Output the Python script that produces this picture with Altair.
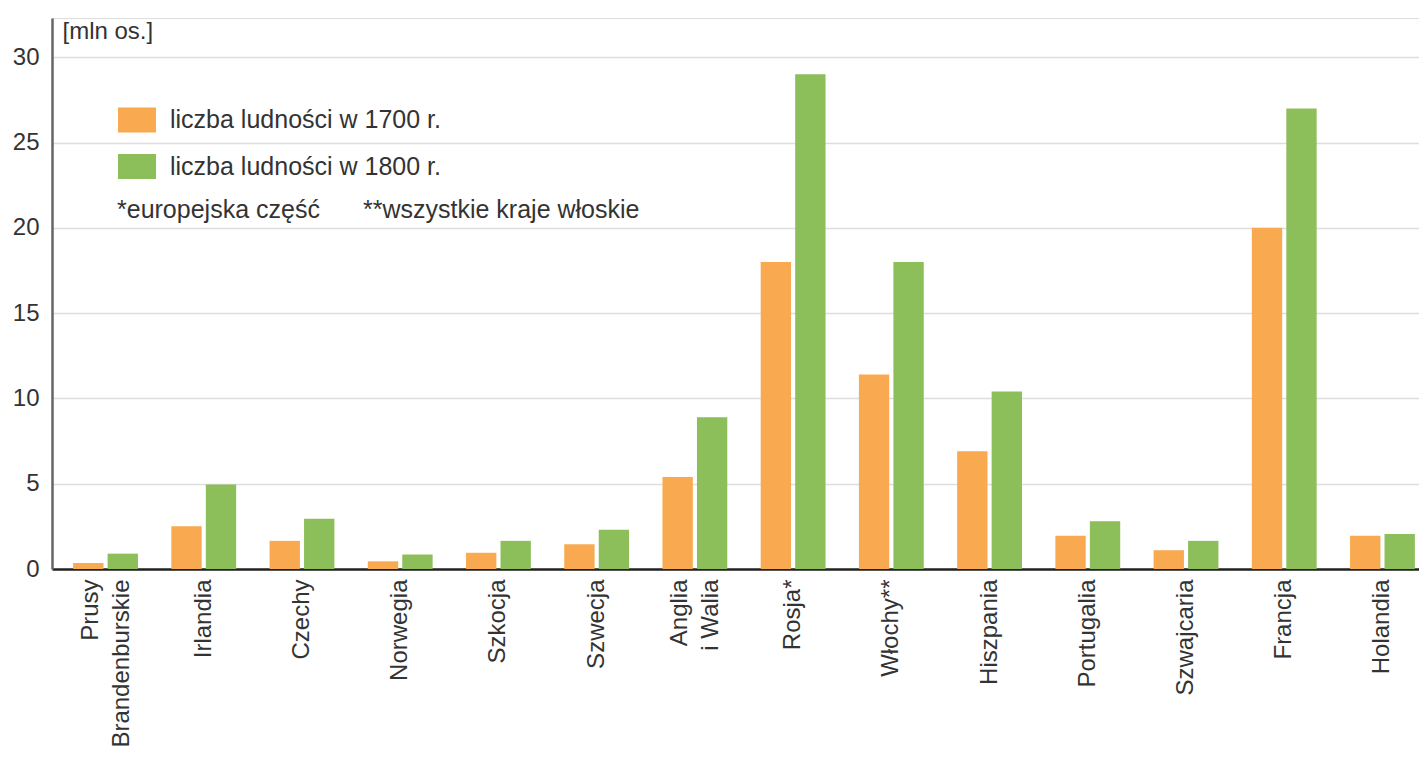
import altair as alt
import pandas as pd

countries = ["Prusy|Brandenburskie", "Irlandia", "Czechy", "Norwegia", "Szkocja", "Szwecja",
             "Anglia|i Walia", "Rosja*", "Włochy**", "Hiszpania", "Portugalia", "Szwajcaria",
             "Francja", "Holandia"]
pop_1700 = [0.35, 2.5, 1.65, 0.45, 0.95, 1.45, 5.4, 18, 11.4, 6.9, 1.95, 1.1, 20, 1.95]
pop_1800 = [0.9, 4.95, 2.95, 0.85, 1.65, 2.3, 8.9, 29, 18, 10.4, 2.8, 1.65, 27, 2.05]
series = ["liczba ludności w 1700 r.", "liczba ludności w 1800 r."]
colors = ["#F9A94F", "#8CBE5A"]
notes = ["*europejska część", "**wszystkie kraje włoskie"]
y_ticks = [0, 5, 10, 15, 20, 25, 30]

rows = []
for c, a, b in zip(countries, pop_1700, pop_1800):
    rows.append({"kraj": c, "seria": series[0], "wartosc": a})
    rows.append({"kraj": c, "seria": series[1], "wartosc": b})
df = pd.DataFrame(rows)

FONT = "Liberation Sans"
TXT = "#333333"

bars = alt.Chart(df).mark_bar().encode(
    x=alt.X("kraj:N", sort=countries,
            scale=alt.Scale(range=[0, 1384], paddingInner=0.34, paddingOuter=0.215),
            axis=alt.Axis(title=None, labelAngle=270, labelAlign="right", labelBaseline="middle",
                          labelExpr="split(datum.label, '|')", labelFontSize=24, labelLineHeight=31,
                          labelOffset={"condition": {"test": "indexof(datum.value, '|') >= 0",
                                                     "value": -15},
                                       "value": 0},
                          labelPadding=10, ticks=False, domainColor="#222222", domainWidth=2.5,
                          labelColor=TXT, labelFont=FONT, grid=False, labelLimit=400)),
    xOffset=alt.XOffset("seria:N", sort=series, scale=alt.Scale(paddingInner=0.12)),
    y=alt.Y("wartosc:Q", scale=alt.Scale(domain=[0, 32.3], nice=False),
            axis=alt.Axis(values=y_ticks, title="[mln os.]", titleAngle=0, titleAlign="left",
                          titleX=10, titleY=20, titleBaseline="alphabetic", titleFont=FONT,
                          titleFontSize=24, titleFontWeight="normal", titleColor=TXT,
                          labelFont=FONT, labelFontSize=24, labelColor=TXT, labelPadding=13,
                          ticks=False, domainColor="#666666", domainWidth=2.5,
                          grid=True, gridColor="#dddddd", gridWidth=1.5)),
    color=alt.Color("seria:N", sort=series, scale=alt.Scale(domain=series, range=colors),
                    legend=alt.Legend(title=None, orient="none", legendX=66, legendY=83,
                                      symbolType="M-1,-0.66L1,-0.66L1,0.66L-1,0.66Z",
                                      symbolSize=1444, symbolStrokeWidth=0, symbolOpacity=1,
                                      labelFont=FONT, labelFontSize=25, labelColor=TXT,
                                      labelOffset=14, rowPadding=14.5, padding=0,
                                      labelLimit=600)),
)

note1 = alt.Chart(pd.DataFrame({"t": [notes[0]]})).mark_text(
    align="left", baseline="middle", fontSize=25, font=FONT, color=TXT
).encode(x=alt.value(65), y=alt.value(192), text="t:N")

note2 = alt.Chart(pd.DataFrame({"t": [notes[1]]})).mark_text(
    align="left", baseline="middle", fontSize=25, font=FONT, color=TXT
).encode(x=alt.value(311), y=alt.value(192), text="t:N")

chart = alt.layer(bars, note1, note2).properties(
    width=1367, height=551,
    autosize=alt.AutoSizeParams(type="none"),
    padding={"left": 44, "top": 10, "right": 0, "bottom": 181},
).configure_view(strokeWidth=0, strokeOpacity=0).configure(background="white")

chart.save("out.html", embed_options={"renderer": "svg", "actions": False})
